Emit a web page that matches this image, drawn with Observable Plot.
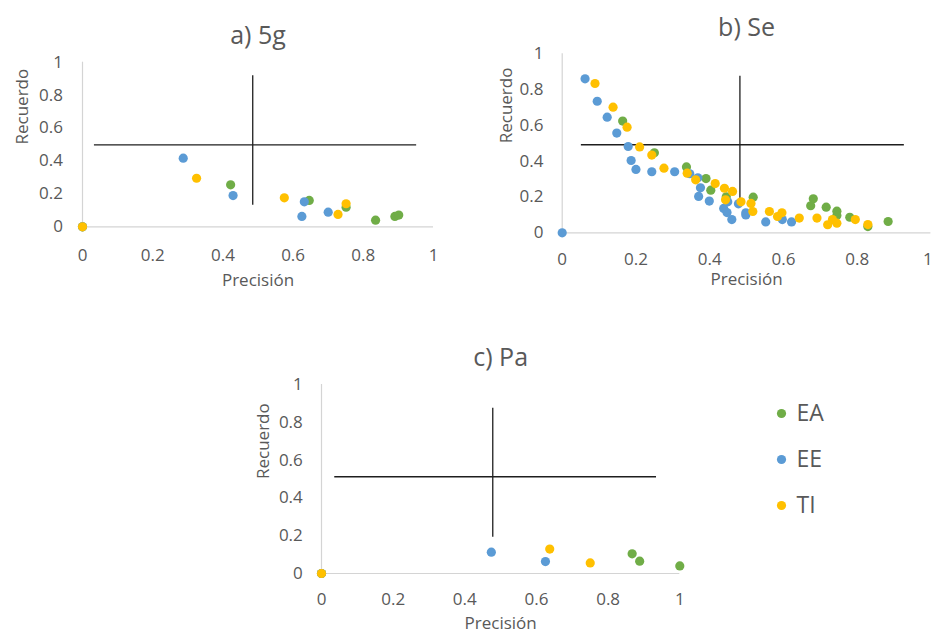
<!DOCTYPE html>
<html>
<head>
<meta charset="utf-8">
<script src="https://cdn.jsdelivr.net/npm/d3@7"></script>
<script src="https://cdn.jsdelivr.net/npm/@observablehq/plot@0.6"></script>
<style>
  body { margin: 0; background: #fff; }
  #root { position: relative; width: 934px; height: 639px; background: #fff; overflow: hidden; }
  .panel { position: absolute; }
</style>
</head>
<body>
<div id="root"></div>
<script>
// ---- categories / colours ----
const seriesNames = ["EA", "EE", "TI"];
const seriesColors = ["#70ad47", "#5b9bd5", "#ffc000"];
const tickValues = [0, 0.2, 0.4, 0.6, 0.8, 1];
const xLabel = "Precisión";
const yLabel = "Recuerdo";

// ---- a) 5g : [Precisión, Recuerdo] ----
const a5g_EA = [[0,0],[0.422,0.255],[0.646,0.160],[0.751,0.119],[0.835,0.040],[0.890,0.063],[0.901,0.071]];
const a5g_EE = [[0,0],[0.287,0.417],[0.429,0.190],[0.632,0.152],[0.625,0.063],[0.700,0.089]];
const a5g_TI = [[0,0],[0.325,0.295],[0.575,0.176],[0.728,0.075],[0.751,0.140]];
const a5g_hLine = [0.498, 0.034, 0.952];   // y, x1, x2
const a5g_vLine = [0.485, 0.131, 0.917];   // x, y1, y2

// ---- b) Se ----
const bSe_EA = [[0.164,0.624],[0.250,0.447],[0.337,0.368],[0.390,0.303],[0.403,0.238],[0.445,0.201],[0.518,0.199],[0.681,0.190],[0.674,0.151],[0.716,0.143],[0.745,0.121],[0.745,0.097],[0.780,0.087],[0.829,0.035],[0.884,0.063]];
const bSe_EE = [[0,0],[0.062,0.860],[0.095,0.735],[0.122,0.646],[0.148,0.557],[0.179,0.482],[0.187,0.404],[0.200,0.354],[0.243,0.341],[0.305,0.341],[0.346,0.330],[0.368,0.307],[0.375,0.251],[0.370,0.203],[0.399,0.177],[0.438,0.136],[0.449,0.173],[0.447,0.113],[0.460,0.074],[0.478,0.162],[0.498,0.112],[0.498,0.100],[0.552,0.061],[0.597,0.074],[0.622,0.061]];
const bSe_TI = [[0.089,0.834],[0.138,0.702],[0.176,0.590],[0.210,0.480],[0.243,0.434],[0.276,0.361],[0.339,0.333],[0.362,0.296],[0.415,0.275],[0.440,0.249],[0.462,0.231],[0.443,0.184],[0.485,0.173],[0.512,0.164],[0.517,0.119],[0.562,0.119],[0.584,0.091],[0.596,0.112],[0.643,0.082],[0.691,0.082],[0.720,0.045],[0.733,0.074],[0.745,0.054],[0.795,0.074],[0.829,0.046]];
const bSe_hLine = [0.492, 0.052, 0.928];
const bSe_vLine = [0.482, 0.158, 0.875];

// ---- c) Pa ----
const cPa_EA = [[0,0],[0.867,0.104],[0.888,0.065],[1.0,0.040]];
const cPa_EE = [[0,0],[0.474,0.113],[0.625,0.063]];
const cPa_TI = [[0,0],[0.637,0.129],[0.750,0.056]];
const cPa_hLine = [0.512, 0.037, 0.935];
const cPa_vLine = [0.478, 0.192, 0.875];

const textColor = "#595959";
const font = "'Open Sans', 'Liberation Sans', sans-serif";

function table(ea, ee, ti) {
  const rows = [];
  [ea, ee, ti].forEach((pts, i) => pts.forEach(([x, y]) => rows.push({series: seriesNames[i], x, y})));
  return rows;
}

function panel(cfg) {
  const data = table(cfg.ea, cfg.ee, cfg.ti);
  const xTicksMain = cfg.edgeNudge ? tickValues.slice(0, -1) : tickValues;
  const axisOpts = {tickSize: 0, tickPadding: cfg.xpad, tickFormat: d => String(d), fontSize: 17, color: textColor, label: null};
  const marks = [
    Plot.ruleX([0], {stroke: "#d4d4d4", strokeWidth: 1.2}),
    Plot.ruleY([0], {stroke: "#d4d4d4", strokeWidth: 1.2}),
    Plot.axisX(xTicksMain, axisOpts),
    Plot.axisY(tickValues, {tickSize: 0, tickPadding: cfg.ypad, tickFormat: d => String(d), fontSize: 17, color: textColor, label: null}),
    Plot.ruleY([cfg.h], {y: d => d[0], x1: d => d[1], x2: d => d[2], stroke: "#1e1e1e", strokeWidth: 1.3}),
    Plot.ruleX([cfg.v], {x: d => d[0], y1: d => d[1], y2: d => d[2], stroke: "#1e1e1e", strokeWidth: 1.3}),
    Plot.dot(data, {x: "x", y: "y", fill: "series", r: 4.6}),
    Plot.text([cfg.title], {frameAnchor: "top", dy: cfg.titleDy, fontSize: 25, fill: textColor}),
    Plot.text([xLabel], {frameAnchor: "bottom", dy: cfg.xlabDy, fontSize: 17, fill: textColor}),
    Plot.text([yLabel], {frameAnchor: "left", dx: cfg.ylabDx, rotate: -90, fontSize: 17, fill: textColor})
  ];
  if (cfg.edgeNudge) marks.push(Plot.axisX(tickValues.slice(-1), {...axisOpts, dx: -cfg.edgeNudge}));
  return Plot.plot({
    width: cfg.width, height: cfg.height,
    marginLeft: cfg.ml, marginRight: cfg.mr, marginTop: cfg.mt, marginBottom: cfg.mb,
    style: {fontFamily: font, background: "transparent", overflow: "visible"},
    x: {domain: [0, 1]},
    y: {domain: [0, 1]},
    color: {domain: seriesNames, range: seriesColors},
    marks
  });
}

function place(el, left, top) {
  const d = document.createElement("div");
  d.className = "panel";
  d.style.left = left + "px";
  d.style.top = top + "px";
  d.appendChild(el);
  document.getElementById("root").appendChild(d);
}

place(panel({title: "a) 5g", ea: a5g_EA, ee: a5g_EE, ti: a5g_TI, h: a5g_hLine, v: a5g_vLine,
  width: 460, height: 300, ml: 82, mr: 27, mt: 61.7, mb: 73.7,
  xpad: 22, ypad: 19.5, titleDy: -36.4, xlabDy: 58.8, ylabDx: -60}), 0, 0);

place(panel({title: "b) Se", ea: bSe_EA, ee: bSe_EE, ti: bSe_TI, h: bSe_hLine, v: bSe_vLine,
  width: 444, height: 300, ml: 71.7, mr: 3.6, mt: 53.3, mb: 67.7, edgeNudge: 3,
  xpad: 20, ypad: 18.7, titleDy: -36, xlabDy: 52.3, ylabDx: -55.4}), 490, 0);

place(panel({title: "c) Pa", ea: cPa_EA, ee: cPa_EE, ti: cPa_TI, h: cPa_hLine, v: cPa_vLine,
  width: 480, height: 309, ml: 81, mr: 40.7, mt: 54, mb: 66,
  xpad: 19, ypad: 18.7, titleDy: -36.7, xlabDy: 55.6, ylabDx: -58}), 240, 330);

// legend
const legend = Plot.plot({
  width: 100, height: 140, margin: 0,
  style: {fontFamily: font, background: "transparent", overflow: "visible"},
  y: {type: "point", domain: seriesNames, range: [22.7, 115.3], padding: 0, axis: null},
  color: {domain: seriesNames, range: seriesColors},
  marks: [
    Plot.dot(seriesNames, {y: d => d, fill: d => d, r: 4.6, frameAnchor: "left", dx: 21}),
    Plot.text(seriesNames, {y: d => d, text: d => d, frameAnchor: "left", dx: 36, textAnchor: "start", fontSize: 23, fill: textColor})
  ]
});
place(legend, 760, 390);
</script>
</body>
</html>
